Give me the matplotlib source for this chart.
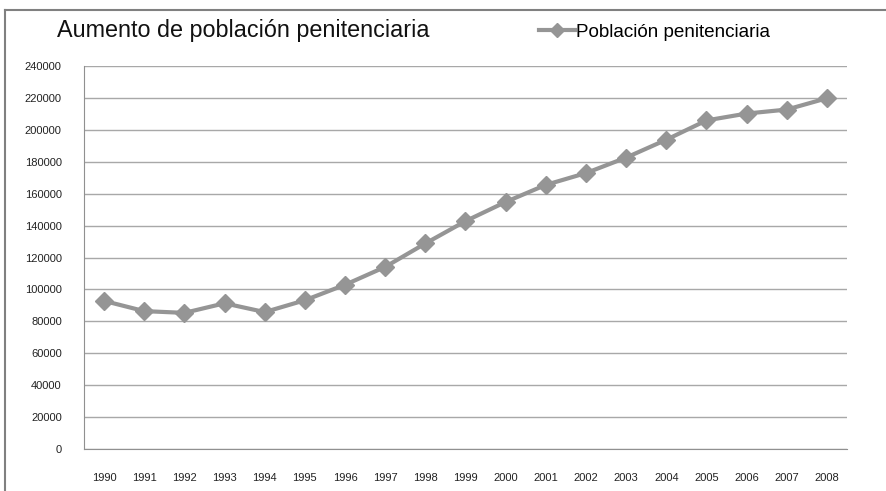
import matplotlib
matplotlib.use("Agg")
import matplotlib.pyplot as plt
from matplotlib.lines import Line2D

years = ["1990", "1991", "1992", "1993", "1994", "1995", "1996", "1997", "1998", "1999",
         "2000", "2001", "2002", "2003", "2004", "2005", "2006", "2007", "2008"]
poblacion = [92800, 86400, 85300, 91300, 85800, 93200, 102900, 114100, 128800, 142800,
             154800, 165500, 172900, 182600, 193800, 205900, 210200, 212700, 219800]
yticks = list(range(0, 240001, 20000))
title = "Aumento de población penitenciaria"
series_name = "Población penitenciaria"

fam = ["Liberation Sans", "DejaVu Sans"]
plt.rcParams['font.family'] = fam

fig = plt.figure(figsize=(8.86, 4.91), dpi=100)
ax = fig.add_axes([84/886, 1-449/491, (847-84)/886, (449-66)/491])

color = "#959595"
x = list(range(len(years)))
ax.plot(x, poblacion, color=color, lw=3, marker="D", ms=9, mec=color, mfc=color, zorder=3)

ax.set_xlim(-0.5, len(years)-0.5)
ax.set_ylim(0, 240000)
ax.set_yticks(yticks)
ax.set_yticklabels([str(v) for v in yticks], fontsize=8)
ax.set_xticks(x)
ax.set_xticklabels(years, fontsize=8)
ax.tick_params(axis="both", length=0, colors="#222222")
ax.tick_params(axis="x", pad=17)
ax.tick_params(axis="y", pad=16)
ax.grid(axis="y", color="#a8a8a8", lw=1)
ax.set_axisbelow(True)
for s in ["top", "right"]:
    ax.spines[s].set_visible(False)
ax.spines["left"].set_color("#909090")
ax.spines["bottom"].set_color("#909090")

fig.text(57/886, 1-31/491, title, fontsize=16.8, va="center", ha="left", color="#111111")

h = Line2D([0], [0], color=color, lw=3, marker="D", ms=7, mec=color, mfc=color)
fig.legend([h], [series_name], loc="center left", bbox_to_anchor=(530/886, 1-32/491),
           frameon=False, fontsize=13.6, handlelength=1.9, handletextpad=0.05, borderpad=0)

# outer frame lines (top and left)
fig.add_artist(Line2D([5/886, 1], [1-10/491, 1-10/491], transform=fig.transFigure, color="#808080", lw=1.5))
fig.add_artist(Line2D([5/886, 5/886], [0, 1-10/491], transform=fig.transFigure, color="#808080", lw=1.5))

fig.savefig("out.png", dpi=100)
